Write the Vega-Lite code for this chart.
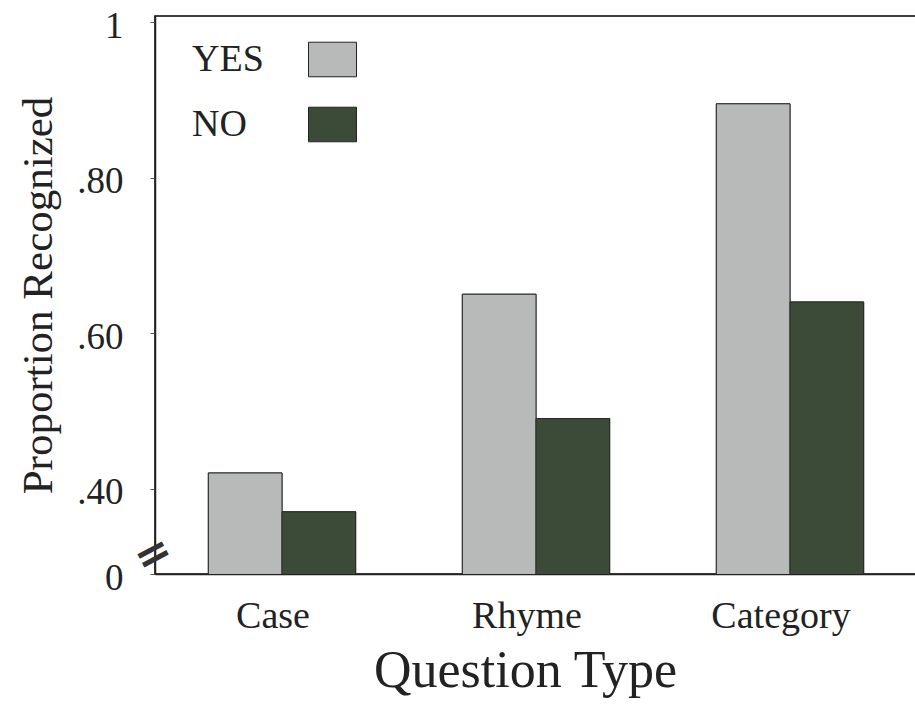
{
  "$schema": "https://vega.github.io/schema/vega-lite/v6.json",
  "width": 762,
  "height": 558,
  "autosize": "none",
  "padding": {"left": 155, "top": 16, "right": 0, "bottom": 134},
  "background": "white",
  "config": {
    "font": "Liberation Serif",
    "view": {"stroke": "black", "strokeWidth": 1.5}
  },
  "data": {
    "values": [
      {"type": "Case", "answer": "YES", "value": 0.42},
      {"type": "Case", "answer": "NO", "value": 0.37},
      {"type": "Rhyme", "answer": "YES", "value": 0.65},
      {"type": "Rhyme", "answer": "NO", "value": 0.49},
      {"type": "Category", "answer": "YES", "value": 0.895},
      {"type": "Category", "answer": "NO", "value": 0.64}
    ]
  },
  "encoding": {
    "x": {
      "field": "type",
      "type": "nominal",
      "sort": ["Case", "Rhyme", "Category"],
      "scale": {"paddingInner": 0.42, "paddingOuter": 0.21},
      "axis": {
        "title": "Question Type",
        "titleFont": "Liberation Serif",
        "titleFontSize": 52,
        "titleFontWeight": "normal",
        "titleColor": "#222",
        "titlePadding": 10,
        "titleX": 370,
        "labelFont": "Liberation Serif",
        "labelFontSize": 38,
        "labelColor": "#222",
        "labelAngle": 0,
        "labelPadding": 23,
        "labelOffset": -9,
        "ticks": false,
        "tickSize": 0,
        "domainColor": "#222",
        "domainWidth": 1.5
      }
    },
    "xOffset": {"field": "answer", "type": "nominal", "sort": ["YES", "NO"], "scale": {"paddingInner": 0}},
    "color": {
      "field": "answer",
      "type": "nominal",
      "sort": ["YES", "NO"],
      "scale": {"domain": ["YES", "NO"], "range": ["#b8baba", "#3c4a38"]},
      "legend": {
        "title": null,
        "orient": "none",
        "legendX": 153,
        "legendY": 19,
        "padding": 0,
        "symbolType": "M-1,-0.72H1V0.72H-1Z",
        "symbolSize": 2304,
        "symbolStrokeColor": "#222",
        "symbolStrokeWidth": 1,
        "symbolOpacity": 1,
        "rowPadding": 21,
        "labelFont": "Liberation Serif",
        "labelFontSize": 38,
        "labelColor": "#222",
        "labelAlign": "left",
        "labelOffset": -165
      }
    }
  },
  "layer": [
    {
      "mark": {"type": "bar", "stroke": "#2a2a2a", "strokeWidth": 1, "clip": true},
      "encoding": {
        "y": {
          "field": "value",
          "type": "quantitative",
          "scale": {"domain": [0.29, 1.008], "zero": false, "nice": false},
          "axis": {
            "title": "Proportion Recognized",
            "titleFont": "Liberation Serif",
            "titleFontSize": 43,
            "titleFontWeight": "normal",
            "titleColor": "#222",
            "titlePadding": 16,
            "values": [0.29, 0.4, 0.6, 0.8, 1],
            "labelExpr": "datum.value < 0.3 ? '0' : (datum.value == 1 ? '1' : replace(format(datum.value, '.2f'), '0.', '.'))",
            "labelFont": "Liberation Serif",
            "labelFontSize": 37,
            "labelColor": "#222",
            "labelPadding": 27,
            "labelOffset": 4,
            "labelFlush": false,
            "tickSize": 5,
            "tickColor": "#555",
            "domainColor": "#222",
            "domainWidth": 1.5,
            "grid": false
          }
        }
      }
    },
    {
      "mark": {"type": "bar", "stroke": "#2a2a2a", "strokeWidth": 1, "clip": true},
      "encoding": {
        "y": {
          "field": "value",
          "type": "quantitative",
          "axis": {
            "orient": "left",
            "title": null,
            "values": [0.315],
            "labelExpr": "'='",
            "labelFont": "DejaVu Sans",
            "labelFontSize": 44,
            "labelFontWeight": "bold",
            "labelColor": "#333",
            "labelAngle": -28,
            "labelAlign": "center",
            "labelBaseline": "middle",
            "labelPadding": 2,
            "labelFlush": false,
            "ticks": false,
            "tickSize": 0,
            "domain": false,
            "grid": false
          }
        }
      }
    }
  ],
  "resolve": {"axis": {"y": "independent"}}
}
